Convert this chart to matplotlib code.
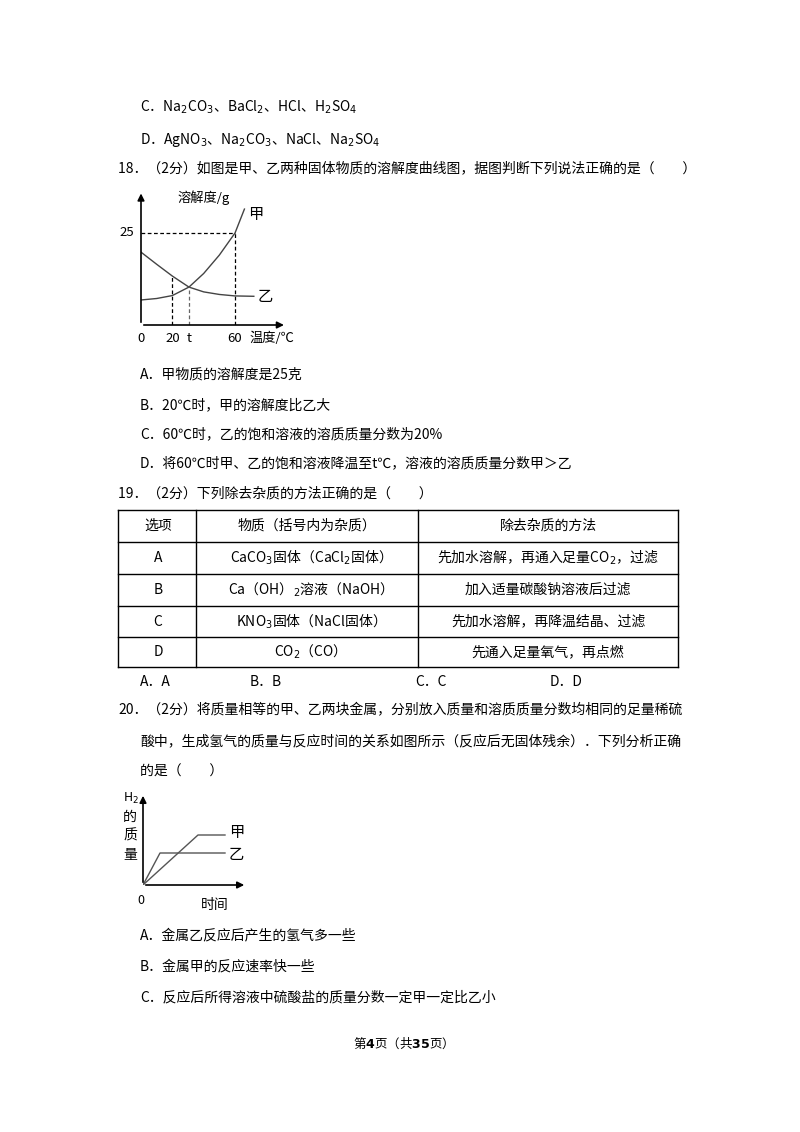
import matplotlib.pyplot as plt

plt.rcParams['font.family'] = ['Noto Sans CJK SC', 'DejaVu Sans']
plt.rcParams['mathtext.fontset'] = 'dejavusans'

# chart 18: solubility curves (temperature, solubility g)
t_jia = [0, 10, 20, 30.6, 40, 50, 60, 66]
s_jia = [6.8, 7.2, 8.0, 10.3, 14.0, 19.0, 25.0, 31.5]
t_yi = [0, 10, 20, 30.6, 40, 50, 60, 72]
s_yi = [19.8, 16.5, 13.3, 10.3, 9.0, 8.3, 7.9, 7.8]
x_ticks = [0, 20, 30.6, 60]
x_tick_labels = ['0', '20', 't', '60']

# chart 20: H2 mass vs time
time_yi = [0, 1.7, 8.2]
h2_yi = [0, 3.2, 3.2]
time_jia = [0, 5.5, 8.2]
h2_jia = [0, 5.0, 5.0]

# table 19
table_rows = [
    ['选项', '物质（括号内为杂质）', '除去杂质的方法'],
    ['A', 'CaCO$_3$固体（CaCl$_2$固体）', '先加水溶解，再通入足量CO$_2$，过滤'],
    ['B', 'Ca（OH）$_2$溶液（NaOH）', '加入适量碳酸钠溶液后过滤'],
    ['C', 'KNO$_3$固体（NaCl固体）', '先加水溶解，再降温结晶、过滤'],
    ['D', 'CO$_2$（CO）', '先通入足量氧气，再点燃'],
]
row_edges = [510, 542, 574, 606, 637, 667]
col_edges = [118, 196, 418, 678]

W, H = 800, 1132
fig = plt.figure(figsize=(8, 11.32), dpi=100)
ax = fig.add_axes([0, 0, 1, 1])
ax.set_xlim(0, W)
ax.set_ylim(H, 0)
ax.axis('off')

fs = 10


def txt(x, y, s, **kw):
    kw.setdefault('fontsize', fs)
    kw.setdefault('va', 'center')
    ax.text(x, y, s, **kw)


txt(140, 107, 'C．Na$_2$CO$_3$、BaCl$_2$、HCl、H$_2$SO$_4$')
txt(140, 140, 'D．AgNO$_3$、Na$_2$CO$_3$、NaCl、Na$_2$SO$_4$')
txt(118, 168, '18．（2分）如图是甲、乙两种固体物质的溶解度曲线图，据图判断下列说法正确的是（　　）')
txt(140, 375, 'A．甲物质的溶解度是25克')
txt(140, 405, 'B．20℃时，甲的溶解度比乙大')
txt(140, 434, 'C．60℃时，乙的饱和溶液的溶质质量分数为20%')
txt(140, 463, 'D．将60℃时甲、乙的饱和溶液降温至t℃，溶液的溶质质量分数甲＞乙')
txt(118, 494, '19．（2分）下列除去杂质的方法正确的是（　　）')

# table
for y in row_edges:
    ax.plot([col_edges[0], col_edges[-1]], [y, y], color='k', lw=1)
for x in col_edges:
    ax.plot([x, x], [row_edges[0], row_edges[-1]], color='k', lw=1)
for r, row in enumerate(table_rows):
    yc = (row_edges[r] + row_edges[r + 1]) / 2
    for c, cell in enumerate(row):
        xc = (col_edges[c] + col_edges[c + 1]) / 2
        if c == 0:
            xc = col_edges[0] + 40
        txt(xc, yc, cell, ha='center')

txt(140, 682, 'A．A')
txt(250, 682, 'B．B')
txt(415, 682, 'C．C')
txt(550, 682, 'D．D')
txt(118, 710, '20．（2分）将质量相等的甲、乙两块金属，分别放入质量和溶质质量分数均相同的足量稀硫')
txt(140, 741, '酸中，生成氢气的质量与反应时间的关系如图所示（反应后无固体残余）．下列分析正确')
txt(140, 772, '的是（　　）')
txt(140, 935, 'A．金属乙反应后产生的氢气多一些')
txt(140, 966, 'B．金属甲的反应速率快一些')
txt(140, 997, 'C．反应后所得溶液中硫酸盐的质量分数一定甲一定比乙小')
ax.text(400, 1043, '第$\\mathbf{4}$页（共$\\mathbf{35}$页）', fontsize=9, ha='center', va='center')

# chart 18 inset: origin px (141,325), 1.567 px per degree, 3.68 px per g
x0, y0, sx, sy = 141, 325, 1.567, 3.68
xmax, ymax = 95, 37
a1 = fig.add_axes([x0 / W, 1 - y0 / H, xmax * sx / W, ymax * sy / H])
a1.set_xlim(0, xmax)
a1.set_ylim(0, ymax)
a1.axis('off')
a1.annotate('', xy=(93, 0), xytext=(0, 0), arrowprops=dict(arrowstyle='-|>', color='k', lw=1.2))
a1.annotate('', xy=(0, 36.5), xytext=(0, 0), arrowprops=dict(arrowstyle='-|>', color='k', lw=1.2))
a1.plot(t_jia, s_jia, color='#444', lw=1)
a1.plot(t_yi, s_yi, color='#444', lw=1)
a1.plot([0, 60], [25, 25], 'k--', lw=0.9, dashes=(3, 2))
a1.plot([60, 60], [0, 25], 'k--', lw=0.9, dashes=(3, 2))
a1.plot([20, 20], [0, 13.3], 'k--', lw=0.9, dashes=(3, 2))
a1.plot([30.6, 30.6], [0, 10.3], '--', color='#666', lw=0.9, dashes=(3, 2))
txt(178, 198, '溶解度/g', fontsize=9.5)
txt(134, 233, '25', ha='right', fontsize=9.5)
txt(248, 214, '甲', fontsize=11)
txt(258, 297, '乙', fontsize=11)
for v, lab in zip(x_ticks, x_tick_labels):
    txt(x0 + v * sx, 338, lab, ha='center', fontsize=9.5)
txt(249, 338, '温度/℃', fontsize=9.5)

# chart 20 inset: origin px (143,885), 10 px per unit
x0, y0, s = 143, 885, 10
a2 = fig.add_axes([x0 / W, 1 - y0 / H, 11 * s / W, 9.5 * s / H])
a2.set_xlim(0, 11)
a2.set_ylim(0, 9.5)
a2.axis('off')
a2.annotate('', xy=(10.4, 0), xytext=(0, 0), arrowprops=dict(arrowstyle='-|>', color='k', lw=1.2))
a2.annotate('', xy=(0, 9.2), xytext=(0, 0), arrowprops=dict(arrowstyle='-|>', color='k', lw=1.2))
a2.plot(time_jia, h2_jia, color='#555', lw=1)
a2.plot(time_yi, h2_yi, color='#555', lw=1)
txt(131, 798, 'H$_2$', fontsize=9, ha='center')
for i, ch in enumerate('的质量'):
    txt(130, 817 + i * 19, ch, fontsize=10, ha='center')
txt(229, 832, '甲', fontsize=11)
txt(229, 855, '乙', fontsize=11)
txt(141, 900, '0', ha='center', fontsize=9)
txt(215, 905, '时间', ha='center', fontsize=10)

fig.savefig('out.png', dpi=100)
